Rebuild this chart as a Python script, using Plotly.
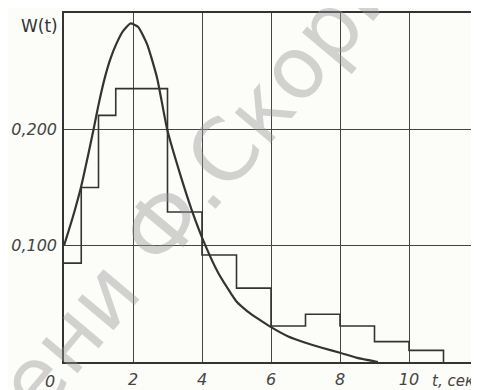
import plotly.graph_objects as go

# Theoretical density curve W(t)
curve_t = [0.0, 0.25, 0.49, 0.70, 0.85, 1.00, 1.18, 1.35, 1.51, 1.70, 1.93, 2.15, 2.41, 2.70, 2.99,
           3.35, 3.71, 4.10, 4.48, 4.86, 5.00, 5.30, 5.63, 6.00, 6.50, 7.00, 7.50, 8.00, 8.50, 9.10]
curve_w = [0.100, 0.124, 0.150, 0.178, 0.199, 0.221, 0.244, 0.261, 0.273, 0.284, 0.291, 0.288, 0.273,
           0.244, 0.200, 0.163, 0.130, 0.100, 0.076, 0.058, 0.052, 0.044, 0.037, 0.030, 0.022, 0.0166,
           0.012, 0.008, 0.0035, 0.0]

# Histogram (bin edges and heights)
bin_edges = [0, 0.5, 1.0, 1.5, 3.0, 4, 5, 6, 7, 8, 9, 10, 11]
bin_heights = [0.085, 0.150, 0.212, 0.235, 0.129, 0.092, 0.0635, 0.031, 0.041, 0.031, 0.0175, 0.010]

x_ticks = [2, 4, 6, 8, 10]
x_ticklabels = ["2", "4", "6", "8", "10"]
y_ticks = [0.1, 0.2]
y_ticklabels = ["0,100", "0,200"]

INK = "#333333"
FONT = "DejaVu Sans"

hist_x = list(bin_edges) + [bin_edges[-1]]
hist_y = list(bin_heights) + [bin_heights[-1], 0]

fig = go.Figure()
fig.add_trace(go.Scatter(x=hist_x, y=hist_y, mode="lines", line=dict(shape="hv", color=INK, width=1.6),
                         hoverinfo="skip", showlegend=False))
fig.add_trace(go.Scatter(x=curve_t, y=curve_w, mode="lines", line=dict(shape="spline", smoothing=0.5, color=INK, width=2.2),
                         hoverinfo="skip", showlegend=False))

# the page body has an 8px margin, so the figure is sized/margined to compensate
fig.update_layout(
    width=471, height=382,
    margin=dict(l=56, r=1, t=5, b=28, autoexpand=False),
    paper_bgcolor="#fcfcf9", plot_bgcolor="#fcfcf9",
    font=dict(family=FONT, color=INK),
    showlegend=False,
    xaxis=dict(range=[0, 12], tickvals=x_ticks, ticktext=x_ticklabels, showgrid=True, automargin=False,
               gridcolor="#444444", gridwidth=1, showline=True, linecolor=INK, linewidth=1.5, mirror=True,
               zeroline=False, ticks="", tickfont=dict(size=16, style="italic", color="#444"),
               ticklabelstandoff=2),
    yaxis=dict(range=[0, 0.3], tickvals=y_ticks, ticktext=y_ticklabels, showgrid=True, automargin=False,
               gridcolor="#444444", gridwidth=1, showline=True, linecolor=INK, linewidth=1.5, mirror=True,
               zeroline=False, ticks="", tickfont=dict(size=16, style="italic", color="#444"),
               ticklabelstandoff=2),
)
fig.add_annotation(text="W(t)", xref="paper", yref="paper", x=-0.01, y=0.962, xanchor="right", yanchor="middle",
                   showarrow=False, font=dict(size=17, family=FONT, color="#333"))
fig.add_annotation(text="0", xref="paper", yref="paper", x=-0.034, y=-0.055, xanchor="center", yanchor="middle",
                   showarrow=False, font=dict(size=16, style="italic", family=FONT, color="#444"))
fig.add_annotation(text="t, сек", xref="paper", yref="paper", x=0.885, y=-0.055, xanchor="left", yanchor="middle",
                   showarrow=False, font=dict(size=15, style="italic", family=FONT, color="#444"))
# library watermark
fig.add_annotation(text="мени Ф.Скорины", xref="paper", yref="paper", x=0.37, y=0.58, xanchor="center", yanchor="middle",
                   textangle=-50, showarrow=False, font=dict(size=86, family="DejaVu Sans", color="rgba(150,150,150,0.42)"))

fig.write_html("out.html")
